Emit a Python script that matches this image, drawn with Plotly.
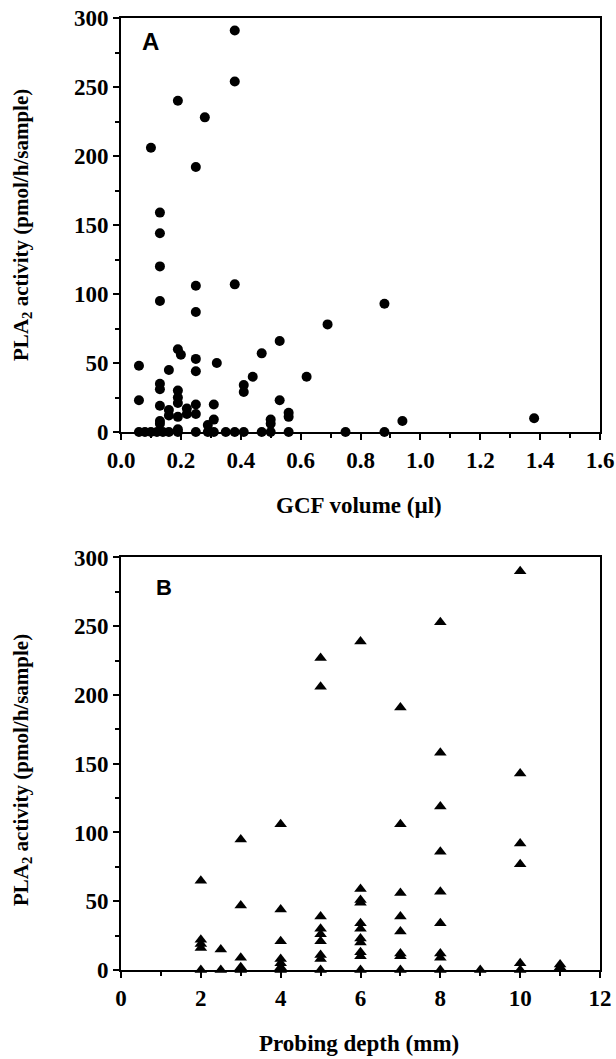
import plotly.graph_objects as go

# Panel A: GCF volume (µl) vs PLA2 activity
gcf_volume = [0.38, 0.38, 0.19, 0.28, 0.10, 0.25, 0.13, 0.13, 0.13, 0.13,
              0.25, 0.25, 0.38, 0.88, 0.69, 0.53, 0.47, 0.62, 0.44, 0.41,
              0.41, 0.19, 0.20, 0.16, 0.06, 0.06, 0.25, 0.25, 0.32, 0.13,
              0.13, 0.13, 0.13, 0.13, 0.19, 0.19, 0.19, 0.19, 0.19, 0.16,
              0.16, 0.22, 0.22, 0.25, 0.25, 0.31, 0.31, 0.29, 0.53, 0.56,
              0.56, 0.50, 0.50, 0.94, 1.38,
              0.06, 0.08, 0.10, 0.12, 0.14, 0.16, 0.19, 0.25, 0.29, 0.31,
              0.35, 0.38, 0.41, 0.47, 0.50, 0.56, 0.75, 0.88]
pla2_a = [291, 254, 240, 228, 206, 192, 159, 144, 120, 95,
          106, 87, 107, 93, 78, 66, 57, 40, 40, 34,
          29, 60, 56, 45, 48, 23, 53, 44, 50, 35,
          31, 19, 8, 6, 30, 25, 21, 11, 2, 16,
          12, 17, 13, 20, 13, 20, 9, 5, 23, 14,
          11, 9, 6, 8, 10,
          0, 0, 0, 0, 0, 0, 0, 0, 0, 0,
          0, 0, 0, 0, 0, 0, 0, 0]

# Panel B: probing depth (mm) vs PLA2 activity
probing_depth = ([2] * 5 + [2.5] * 2 + [3] * 5 + [4] * 7 + [5] * 9 + [6] * 11
                 + [7] * 8 + [8] * 9 + [9] * 1 + [10] * 6 + [11] * 2)
pla2_b = [65, 22, 19, 16, 0,
          15, 0,
          95, 47, 9, 2, 0,
          106, 44, 21, 8, 5, 2, 0,
          227, 206, 39, 30, 26, 21, 11, 8, 0,
          239, 59, 51, 49, 34, 30, 23, 20, 13, 10, 0,
          191, 106, 56, 39, 28, 12, 10, 0,
          253, 158, 119, 86, 57, 34, 12, 9, 0,
          0,
          290, 143, 92, 77, 5, 0,
          4, 2]

x_ticks_a = [0.0, 0.2, 0.4, 0.6, 0.8, 1.0, 1.2, 1.4, 1.6]
x_ticks_b = [0, 2, 4, 6, 8, 10, 12]
y_ticks = [0, 50, 100, 150, 200, 250, 300]

serif = "Liberation Serif, Times New Roman, serif"
tick_font = dict(family=serif, size=23, color="black", weight="bold")
xtitle_font = dict(family=serif, size=23, color="black", weight="bold")
ytitle_font = dict(family=serif, size=21, color="black", weight="bold")

fig = go.Figure()
fig.add_trace(go.Scatter(x=gcf_volume, y=pla2_a, mode="markers",
                         marker=dict(symbol="circle", size=10, color="black"),
                         cliponaxis=False, xaxis="x", yaxis="y",
                         showlegend=False))
fig.add_trace(go.Scatter(x=probing_depth, y=pla2_b, mode="markers",
                         marker=dict(symbol="triangle-up", size=11, color="black"),
                         cliponaxis=False, xaxis="x2", yaxis="y2",
                         showlegend=False))

axis_common = dict(showline=True, linecolor="black", linewidth=2, mirror=True,
                   ticks="outside", ticklen=6, tickwidth=2, tickcolor="black",
                   showgrid=False, zeroline=False, tickfont=tick_font,
                   automargin=False)

fig.update_layout(
    width=616, height=1059,
    margin=dict(l=121, r=16, t=18, b=89, autoexpand=False),
    paper_bgcolor="white", plot_bgcolor="white",
    xaxis=dict(axis_common, range=[0, 1.6], tickvals=x_ticks_a,
               ticktext=[f"{v:.1f}" for v in x_ticks_a], anchor="y",
               minor=dict(ticks="outside", ticklen=4, tickwidth=1.5,
                          tickcolor="black", dtick=0.1, tick0=0)),
    yaxis=dict(axis_common, range=[0, 300], tickvals=y_ticks, anchor="x",
               domain=[0.5651, 1.0],
               minor=dict(ticks="outside", ticklen=4, tickwidth=1.5,
                          tickcolor="black", dtick=25, tick0=0)),
    xaxis2=dict(axis_common, range=[0, 12], tickvals=x_ticks_b, anchor="y2",
                minor=dict(ticks="outside", ticklen=4, tickwidth=1.5,
                           tickcolor="black", dtick=1, tick0=0)),
    yaxis2=dict(axis_common, range=[0, 300], tickvals=y_ticks, anchor="x2",
                domain=[0.0, 0.4333],
                minor=dict(ticks="outside", ticklen=4, tickwidth=1.5,
                           tickcolor="black", dtick=25, tick0=0)),
)

ytitle = "PLA<sub>2</sub> activity (pmol/h/sample)"
annotations = [
    dict(text="GCF volume (µl)", x=0.497, y=0.4884, xref="paper", yref="paper",
         showarrow=False, font=xtitle_font, xanchor="center", yanchor="middle"),
    dict(text="Probing depth (mm)", x=0.497, y=-0.0767, xref="paper", yref="paper",
         showarrow=False, font=xtitle_font, xanchor="center", yanchor="middle"),
    dict(text=ytitle, x=-0.2067, y=0.7826, xref="paper", yref="paper",
         showarrow=False, font=ytitle_font, textangle=-90,
         xanchor="center", yanchor="middle"),
    dict(text=ytitle, x=-0.2067, y=0.2101, xref="paper", yref="paper",
         showarrow=False, font=ytitle_font, textangle=-90,
         xanchor="center", yanchor="middle"),
    dict(text="A", x=0.061, y=0.944, xref="x domain", yref="y domain",
         showarrow=False, xanchor="center", yanchor="middle",
         font=dict(family="Liberation Sans, Arial, sans-serif", size=24,
                   color="black", weight="bold")),
    dict(text="B", x=0.089, y=0.927, xref="x2 domain", yref="y2 domain",
         showarrow=False, xanchor="center", yanchor="middle",
         font=dict(family="Liberation Sans, Arial, sans-serif", size=22,
                   color="black", weight="bold")),
]
fig.update_layout(annotations=annotations)

fig.write_html("out.html", config={"responsive": False, "displayModeBar": False},
               post_script="document.body.style.margin='0';document.body.style.padding='0';document.body.style.overflow='hidden';document.documentElement.style.overflow='hidden';")
